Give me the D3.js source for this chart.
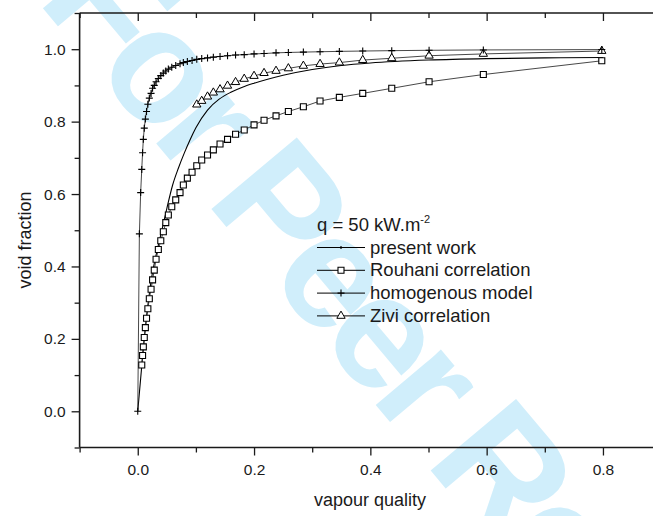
<!DOCTYPE html>
<html>
<head>
<meta charset="utf-8">
<script src="https://cdn.jsdelivr.net/npm/d3@7/dist/d3.min.js"></script>
<style>
  html, body { margin: 0; padding: 0; background: #fff; }
  svg { display: block; font-family: "Liberation Sans", Arial, sans-serif; }
</style>
</head>
<body>
<svg id="chart" width="653" height="516"></svg>
<script>
// Vapour quality grid shared by the correlations
const gridX = [0.0069, 0.0083, 0.0096, 0.0112, 0.0131, 0.0151, 0.0174, 0.0199, 0.0229, 0.0255,
  0.0284, 0.0315, 0.0354, 0.0396, 0.044, 0.0482, 0.0526, 0.0585, 0.0653, 0.0727,
  0.0784, 0.0853, 0.0934, 0.1015, 0.110, 0.120, 0.130, 0.1415, 0.1544, 0.1682,
  0.1831, 0.200, 0.2172, 0.2378, 0.259, 0.2848, 0.3135, 0.3467, 0.3869, 0.4368,
  0.501, 0.5943, 0.798];

// Rouhani correlation (squares)
const rouhaniY = [0.128, 0.154, 0.178, 0.204, 0.231, 0.257, 0.283, 0.311, 0.337, 0.363,
  0.39, 0.42, 0.447, 0.471, 0.496, 0.521, 0.542, 0.565, 0.584, 0.604,
  0.625, 0.644, 0.66, 0.678, 0.694, 0.708, 0.722, 0.738, 0.751, 0.765,
  0.777, 0.791, 0.804, 0.816, 0.828, 0.841, 0.857, 0.867, 0.878, 0.892,
  0.91, 0.93, 0.968];

// Homogenous model (plus markers); two extra low-quality points ahead of the grid
const homX = [0, 0.0028, 0.005].concat(gridX);
const homY = [0, 0.49, 0.604,
  0.668, 0.714, 0.751, 0.782, 0.807, 0.828, 0.848, 0.865, 0.878, 0.892,
  0.90, 0.91, 0.919, 0.927, 0.934, 0.94, 0.945, 0.95, 0.955, 0.96,
  0.963, 0.966, 0.969, 0.972, 0.974, 0.976, 0.978, 0.98, 0.982, 0.984,
  0.985, 0.987, 0.988, 0.99, 0.991, 0.992, 0.993, 0.994, 0.995, 0.996,
  0.997, 0.998, 0.999];

// Zivi correlation (triangles), from x = 0.1 on
const ziviX = gridX.slice(23);
const ziviY = [0.847, 0.857, 0.869, 0.880, 0.889, 0.899, 0.909, 0.918, 0.926, 0.934,
  0.940, 0.947, 0.954, 0.959, 0.963, 0.970, 0.975, 0.982, 0.987, 0.995];

// Present work (solid curve)
const presentX = [0, 0.0069, 0.01, 0.015, 0.02, 0.025, 0.03, 0.04, 0.05, 0.06, 0.07, 0.08,
  0.09, 0.1, 0.12, 0.14, 0.16, 0.18, 0.2, 0.25, 0.3, 0.35, 0.4, 0.5, 0.6, 0.7, 0.8];
const presentY = [0, 0.125, 0.18, 0.26, 0.325, 0.38, 0.42, 0.49, 0.56, 0.625, 0.672, 0.713,
  0.75, 0.783, 0.832, 0.862, 0.881, 0.895, 0.906, 0.928, 0.944, 0.955, 0.962, 0.970, 0.974, 0.976, 0.977];

const xMajor = [0.0, 0.2, 0.4, 0.6, 0.8];
const xMinor = [-0.1, 0.1, 0.3, 0.5, 0.7];
const yMajor = [0.0, 0.2, 0.4, 0.6, 0.8, 1.0];
const yMinor = [-0.1, 0.1, 0.3, 0.5, 0.7, 0.9, 1.1];

const legendItems = ["present work", "Rouhani correlation", "homogenous model", "Zivi correlation"];

const svg = d3.select("#chart");

// Light diagonal watermark behind the plot
svg.append("text")
  .attr("transform", "translate(36,0) rotate(50)")
  .attr("font-size", 162)
  .attr("font-weight", "bold")
  .attr("letter-spacing", -11)
  .attr("fill", "rgb(208,238,251)")
  .text("For Peer Review");

const x = d3.scaleLinear().domain([-0.1, 0.9]).range([79.6, 661.1]);
const y = d3.scaleLinear().domain([-0.1, 1.1]).range([447.5, 13.0]);

const ink = "#1a1a1a";
const fmt = d3.format(".1f");

// Frame
const frame = svg.append("g").attr("stroke", ink).attr("stroke-width", 1.6).attr("fill", "none");
frame.append("line").attr("x1", x(-0.1)).attr("x2", x(0.9)).attr("y1", y(-0.1)).attr("y2", y(-0.1));
frame.append("line").attr("x1", x(-0.1)).attr("x2", x(0.9)).attr("y1", y(1.1)).attr("y2", y(1.1));
frame.append("line").attr("x1", x(-0.1)).attr("x2", x(-0.1)).attr("y1", y(-0.1)).attr("y2", y(1.1));
frame.append("line").attr("x1", x(0.9)).attr("x2", x(0.9)).attr("y1", y(-0.1)).attr("y2", y(1.1));

function styleAxis(g) {
  g.select(".domain").remove();
  g.selectAll(".tick line").attr("stroke", ink).attr("stroke-width", 1.3);
  g.selectAll(".tick text").attr("fill", ink).attr("font-size", 15.5)
    .attr("font-family", "Liberation Sans, Arial, sans-serif");
}

// Bottom axis
svg.append("g").attr("transform", `translate(0,${y(-0.1)})`)
  .call(d3.axisBottom(x).tickValues(xMajor).tickFormat(fmt).tickSize(8).tickPadding(8))
  .call(styleAxis);
svg.append("g").attr("transform", `translate(0,${y(-0.1)})`)
  .call(d3.axisBottom(x).tickValues(xMinor).tickFormat("").tickSize(5))
  .call(styleAxis);
// Top axis (inward ticks)
svg.append("g").attr("transform", `translate(0,${y(1.1)})`)
  .call(d3.axisBottom(x).tickValues(xMajor).tickFormat("").tickSize(8))
  .call(styleAxis);
svg.append("g").attr("transform", `translate(0,${y(1.1)})`)
  .call(d3.axisBottom(x).tickValues(xMinor).tickFormat("").tickSize(5))
  .call(styleAxis);
// Left axis
svg.append("g").attr("transform", `translate(${x(-0.1)},0)`)
  .call(d3.axisLeft(y).tickValues(yMajor).tickFormat(fmt).tickSize(8).tickPadding(6))
  .call(styleAxis);
svg.append("g").attr("transform", `translate(${x(-0.1)},0)`)
  .call(d3.axisLeft(y).tickValues(yMinor).tickFormat("").tickSize(5))
  .call(styleAxis);
// Right axis (inward ticks)
svg.append("g").attr("transform", `translate(${x(0.9)},0)`)
  .call(d3.axisLeft(y).tickValues(yMajor).tickFormat("").tickSize(8))
  .call(styleAxis);

// Axis titles
svg.append("text").attr("x", 370).attr("y", 506).attr("text-anchor", "middle")
  .attr("font-size", 18).attr("fill", ink).text("vapour quality");
svg.append("text").attr("transform", "translate(31,240) rotate(-90)").attr("text-anchor", "middle")
  .attr("font-size", 18).attr("fill", ink).text("void fraction");

const line = d3.line().x(d => x(d[0])).y(d => y(d[1]));
const pts = (xs, ys) => xs.map((v, i) => [v, ys[i]]);

const plot = svg.append("g");

// Present work
plot.append("path").datum(pts(presentX, presentY))
  .attr("d", line.curve(d3.curveMonotoneX))
  .attr("fill", "none").attr("stroke", "#000").attr("stroke-width", 1.1);
line.curve(d3.curveLinear);

// Connecting lines of the correlations
const thin = { stroke: "#333", width: 0.9 };
[[homX, homY], [gridX, rouhaniY], [ziviX, ziviY]].forEach(([xs, ys]) => {
  plot.append("path").datum(pts(xs, ys)).attr("d", line)
    .attr("fill", "none").attr("stroke", thin.stroke).attr("stroke-width", thin.width);
});

// Markers
const sq = d3.symbol().type(d3.symbolSquare).size(36);
const tri = d3.symbol().type(d3.symbolTriangle).size(30);

plot.append("g").selectAll("path").data(pts(gridX, rouhaniY)).join("path")
  .attr("transform", d => `translate(${x(d[0])},${y(d[1])})`)
  .attr("d", sq).attr("fill", "#fff").attr("stroke", "#000").attr("stroke-width", 1.1);

plot.append("g").selectAll("path").data(pts(ziviX, ziviY)).join("path")
  .attr("transform", d => `translate(${x(d[0])},${y(d[1])})`)
  .attr("d", tri).attr("fill", "#fff").attr("stroke", "#000").attr("stroke-width", 1);

plot.append("g").selectAll("path").data(pts(homX, homY)).join("path")
  .attr("transform", d => `translate(${x(d[0])},${y(d[1])})`)
  .attr("d", "M-3.5,0H3.5M0,-3.5V3.5").attr("fill", "none").attr("stroke", "#000").attr("stroke-width", 1.1);

// Legend
const lg = svg.append("g").attr("fill", ink).attr("font-size", 18.5);
const title = lg.append("text").attr("x", 317).attr("y", 231);
title.append("tspan").text("q = 50 kW.m");
title.append("tspan").attr("dy", -8).attr("font-size", 11).text("-2");

legendItems.forEach((name, i) => {
  const cy = 247.5 + i * 22.8;
  const g = lg.append("g");
  g.append("line").attr("x1", 317).attr("x2", 365).attr("y1", cy).attr("y2", cy)
    .attr("stroke", "#000").attr("stroke-width", 1);
  const mx = 341;
  if (i === 0) {
    g.append("circle").attr("cx", mx).attr("cy", cy).attr("r", 1.2).attr("fill", "#000");
  } else if (i === 1) {
    g.append("path").attr("transform", `translate(${mx},${cy})`).attr("d", sq)
      .attr("fill", "#fff").attr("stroke", "#000").attr("stroke-width", 1.1);
  } else if (i === 2) {
    g.append("path").attr("transform", `translate(${mx},${cy})`).attr("d", "M-3.5,0H3.5M0,-3.5V3.5")
      .attr("stroke", "#000").attr("stroke-width", 1.1);
  } else {
    g.append("path").attr("transform", `translate(${mx},${cy})`).attr("d", tri)
      .attr("fill", "#fff").attr("stroke", "#000").attr("stroke-width", 1);
  }
  g.append("text").attr("x", 370).attr("y", cy + 6).text(name);
});
</script>
</body>
</html>
